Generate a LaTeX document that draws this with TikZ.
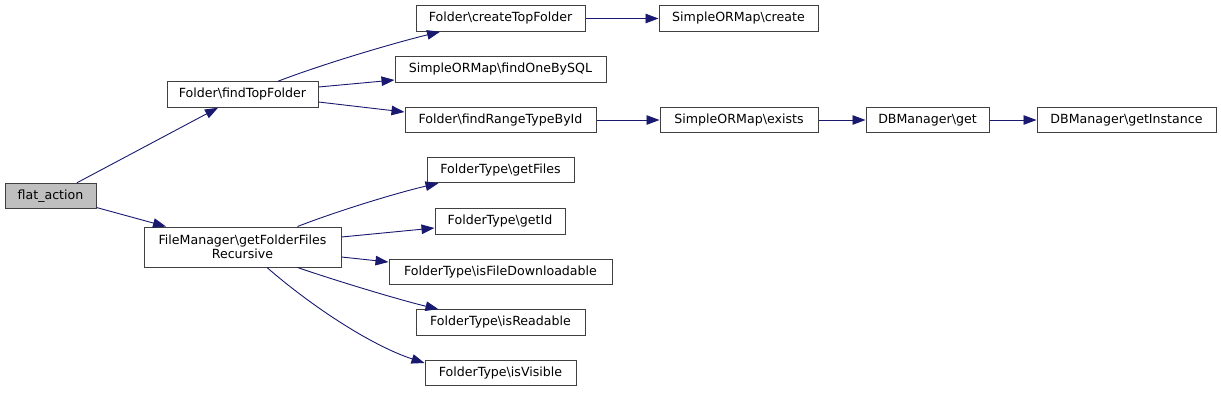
\documentclass[tikz,border=0pt]{standalone}
\usepackage{fontspec}
\setmainfont{DejaVu Sans}
\usetikzlibrary{arrows.meta,calc}
\definecolor{edgeblue}{RGB}{25,25,112}
\definecolor{boxline}{RGB}{64,64,64}
\begin{document}
\begin{tikzpicture}[x=1pt,y=-1pt,
  fn/.style={draw=boxline,line width=1pt,fill=white,inner sep=0pt,minimum height=25.5pt,
    font=\fontsize{12.6}{14.5}\selectfont,align=center},
  e/.style={draw=edgeblue,line width=0.9pt,-{Triangle[length=13pt,width=9.5pt]}}]
\useasboundingbox (0,0) rectangle (1221,392);
\fill[white] (0,0) rectangle (1221,392);
% nodes
\node[fn,fill=black!25,minimum width=91pt] (fa) at (50.5,196) {flat\_action};
\node[fn,minimum width=151pt] (ftf) at (242.5,94.5) {Folder\textbackslash findTopFolder};
\node[fn,minimum width=197pt,minimum height=40pt] (fm) at (242.5,247) {FileManager\textbackslash getFolderFiles\\Recursive};
\node[fn,minimum width=169pt] (ctf) at (500.5,18.5) {Folder\textbackslash createTopFolder};
\node[fn,minimum width=159pt] (cre) at (738.5,18.5) {SimpleORMap\textbackslash create};
\node[fn,minimum width=211pt] (fob) at (500.5,69.5) {SimpleORMap\textbackslash findOneBySQL};
\node[fn,minimum width=191pt] (frt) at (500.5,120) {Folder\textbackslash findRangeTypeById};
\node[fn,minimum width=158pt] (ex) at (739,120) {SimpleORMap\textbackslash exists};
\node[fn,minimum width=123pt] (get) at (927.5,120) {DBManager\textbackslash get};
\node[fn,minimum width=179pt] (gi) at (1126.5,120) {DBManager\textbackslash getInstance};
\node[fn,minimum width=147pt] (gf) at (500.5,170) {FolderType\textbackslash getFiles};
\node[fn,minimum width=130pt] (gid) at (500,221.5) {FolderType\textbackslash getId};
\node[fn,minimum width=223pt] (ifd) at (500.5,272) {FolderType\textbackslash isFileDownloadable};
\node[fn,minimum width=169pt] (ir) at (500.5,322.5) {FolderType\textbackslash isReadable};
\node[fn,minimum width=151pt] (iv) at (500.5,373) {FolderType\textbackslash isVisible};
% edges
\draw[e] ($(fa.north)+(26.5,0)$) -- ($(ftf.south)+(-24.5,0)$);
\draw[e] ($(fa.east)+(0,11.5)$) -- ($(fm.north)+(-76.5,0)$);
\draw[e] ($(ftf.north)+(35.5,0)$) .. controls (320,65) and (390,44) .. ($(ctf.south)+(-60.5,0)$);
\draw[e] ($(ftf.east)+(0,-7.5)$) -- ($(fob.west)+(0,10.5)$);
\draw[e] ($(ftf.east)+(0,7.5)$) -- ($(frt.west)+(0,-8)$);
\draw[e] (ctf.east) -- (cre.west);
\draw[e] (frt.east) -- (ex.west);
\draw[e] (ex.east) -- (get.west);
\draw[e] (get.east) -- (gi.west);
\draw[e] ($(fm.north)+(55,0)$) .. controls (340,210) and (400,192) .. ($(gf.south)+(-62,0)$);
\draw[e] ($(fm.east)+(0,-10)$) -- ($(gid.west)+(0,6.5)$);
\draw[e] ($(fm.east)+(0,10)$) -- ($(ifd.west)+(0,-10)$);
\draw[e] ($(fm.south)+(55,0)$) .. controls (340,282) and (400,300) .. ($(ir.north)+(-62,0)$);
\draw[e] ($(fm.south)+(24.5,0)$) .. controls (310,305) and (370,345) .. ($(iv.west)+(0,-10)$);
\end{tikzpicture}
\end{document}
